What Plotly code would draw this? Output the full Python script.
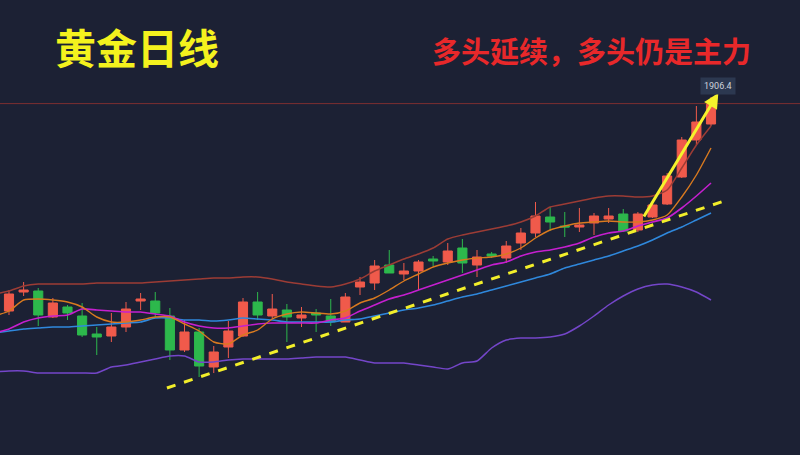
import plotly.graph_objects as go

# ---- data (gold daily) ----
opens  = [1699,1718,1719,1693,1703,1694,1676,1674,1683,1709,1709,1694,1660,1678,1643,1663,1674,1708,1694,1700,
          1692,1697,1694,1688,1723,1727,1745,1736,1739,1751,1748,1762,1745,1756,1752,1767,1777,1793,1784,1783,
          1787,1791,1796,1780,1793,1806,1833,1870,1886]
highs  = [1720,1728,1722,1712,1705,1707,1683,1697,1708,1717,1718,1702,1690,1682,1664,1689,1712,1718,1716,1706,
          1703,1701,1711,1717,1733,1750,1760,1747,1750,1754,1767,1771,1760,1758,1769,1782,1808,1803,1798,1802,
          1797,1802,1801,1798,1807,1837,1873,1904,1913]
lows   = [1695,1714,1684,1692,1690,1673,1655,1668,1678,1700,1692,1650,1658,1633,1637,1652,1673,1690,1691,1668,
          1683,1678,1684,1688,1715,1720,1737,1730,1720,1744,1745,1737,1733,1752,1747,1760,1773,1779,1773,1778,
          1775,1787,1778,1778,1792,1805,1832,1865,1884]
closes = [1716,1720,1695,1707,1697,1675,1673,1683,1701,1711,1697,1660,1678,1644,1658,1679,1708,1695,1701,1693,
          1695,1695,1688,1713,1728,1744,1737,1739,1748,1749,1759,1747,1753,1754,1764,1777,1794,1788,1783,1785,
          1794,1794,1779,1796,1805,1834,1870,1888,1906.4]

# indicator lines (first value is the session before the first candle)
upper_band = [1716,1719,1724,1726,1726,1726,1726,1727,1727,1727,1727,1728,1729,1730,1731,1732,1732,1733,1733,1731,
              1728,1726,1724,1723,1726,1731,1739,1745,1751,1756,1762,1771,1775,1778,1781,1784,1788,1794,1803,1806,
              1809,1812,1814,1814,1813,1814,1820,1842,1865,1884]
ma_orange  = [1694,1699,1710,1711,1710,1708,1703,1693,1688,1688,1690,1693,1693,1686,1679,1668,1666,1675,1680,1691,
              1696,1698,1697,1696,1699,1707,1712,1720,1729,1736,1743,1747,1750,1752,1753,1756,1762,1772,1780,1784,
              1787,1788,1789,1788,1788,1790,1795,1813,1835,1862]
ma_magenta = [1677,1681,1688,1692,1694,1695,1701,1700,1699,1698,1698,1696,1694,1688,1684,1682,1682,1684,1686,1687,
              1687,1687,1687,1690,1692,1699,1705,1711,1715,1720,1725,1730,1735,1740,1745,1748,1754,1758,1760,1763,
              1767,1773,1777,1779,1784,1788,1792,1802,1814,1827]
ma_blue    = [1677,1679,1681,1682,1683,1683,1684,1685,1686,1687,1688,1692,1692,1690,1690,1689,1690,1692,1691,1690,
              1688,1688,1688,1688,1690,1691,1694,1697,1700,1702,1705,1709,1713,1716,1720,1724,1728,1732,1736,1742,
              1746,1750,1754,1759,1764,1770,1777,1783,1790,1797]
lower_band = [1638,1639,1639,1637,1637,1637,1637,1637,1643,1645,1648,1651,1654,1654,1648,1648,1650,1651,1651,1651,
              1651,1652,1653,1653,1653,1650,1647,1647,1647,1645,1643,1641,1647,1649,1662,1670,1672,1672,1673,1676,
              1684,1694,1705,1714,1721,1725,1726,1723,1718,1710]

trend_x = [10.8, 49.1]
trend_y = [1622, 1810]
arrow_x = [43.35, 48.5]
arrow_y = [1792, 1917]
last_price = 1906.4

title_left = "黄金日线"
title_right = "多头延续，多头仍是主力"

idx = list(range(len(opens)))
line_idx = list(range(-1, len(opens)))

BG = "#1c2134"
fig = go.Figure()

def add_line(vals, color, width=1.4):
    fig.add_trace(go.Scatter(x=line_idx, y=vals, mode="lines",
                             line=dict(color=color, width=width, shape="spline", smoothing=0.6),
                             hoverinfo="skip", showlegend=False))

add_line(lower_band, "#7446c9", 1.5)
add_line(upper_band, "#9c3c35", 1.5)
add_line(ma_blue, "#2f88dc", 1.6)
add_line(ma_magenta, "#c51fcf", 1.6)
add_line(ma_orange, "#d97a1f", 1.4)

fig.add_trace(go.Candlestick(
    x=idx, open=opens, high=highs, low=lows, close=closes,
    increasing=dict(line=dict(color="#f05a4b", width=1), fillcolor="#f05a4b"),
    decreasing=dict(line=dict(color="#2db84c", width=1), fillcolor="#2db84c"),
    whiskerwidth=0, showlegend=False, hoverinfo="skip"))

# dashed yellow trend line
fig.add_trace(go.Scatter(x=trend_x, y=trend_y, mode="lines",
                         line=dict(color="#f2ee2a", width=3, dash="dash"),
                         hoverinfo="skip", showlegend=False))

# last price line
fig.add_hline(y=last_price, line=dict(color="#7c2f30", width=1))

# yellow arrow
fig.add_annotation(x=arrow_x[1], y=arrow_y[1], ax=arrow_x[0], ay=arrow_y[0],
                   xref="x", yref="y", axref="x", ayref="y", text="",
                   showarrow=True, arrowhead=2, arrowsize=1, arrowwidth=3,
                   arrowcolor="#f5f22c")

# price label
fig.add_annotation(x=48.45, y=last_price, xref="x", yref="y", yshift=18,
                   text=f"{last_price}", showarrow=False,
                   font=dict(family="Roboto, Arial", size=9, color="#cfd3dc"),
                   bgcolor="#2c3850", borderpad=3)

# titles (positions given in pixels, converted to paper coords below)
fig.add_annotation(x=137, y=46, xref="paper", yref="paper", text=f"<b>{title_left}</b>",
                   showarrow=False, xanchor="center", yanchor="middle",
                   font=dict(family="Noto Sans CJK SC", size=41, color="#f4f21e"))
fig.add_annotation(x=591, y=50, xref="paper", yref="paper", text=f"<b>{title_right}</b>",
                   showarrow=False, xanchor="center", yanchor="middle",
                   font=dict(family="Noto Sans CJK SC", size=29, color="#e8282a"))

for a in fig.layout.annotations[-2:]:
    a.x = a.x / 800
    a.y = 1 - a.y / 455

fig.update_layout(
    width=800, height=455,
    margin=dict(l=0, r=0, t=0, b=0),
    paper_bgcolor=BG, plot_bgcolor=BG,
    boxgap=0.22, boxgroupgap=0.2,
    showlegend=False,
    xaxis=dict(range=[-0.615, 54.085], visible=False, showgrid=False,
               rangeslider=dict(visible=False), fixedrange=True),
    yaxis=dict(range=[1555, 2010], visible=False, showgrid=False, fixedrange=True),
)

fig.write_html("out.html", config={"displayModeBar": False},
               post_script="document.body.style.margin='0';document.body.style.overflow='hidden';document.body.style.background='#1c2134';")
